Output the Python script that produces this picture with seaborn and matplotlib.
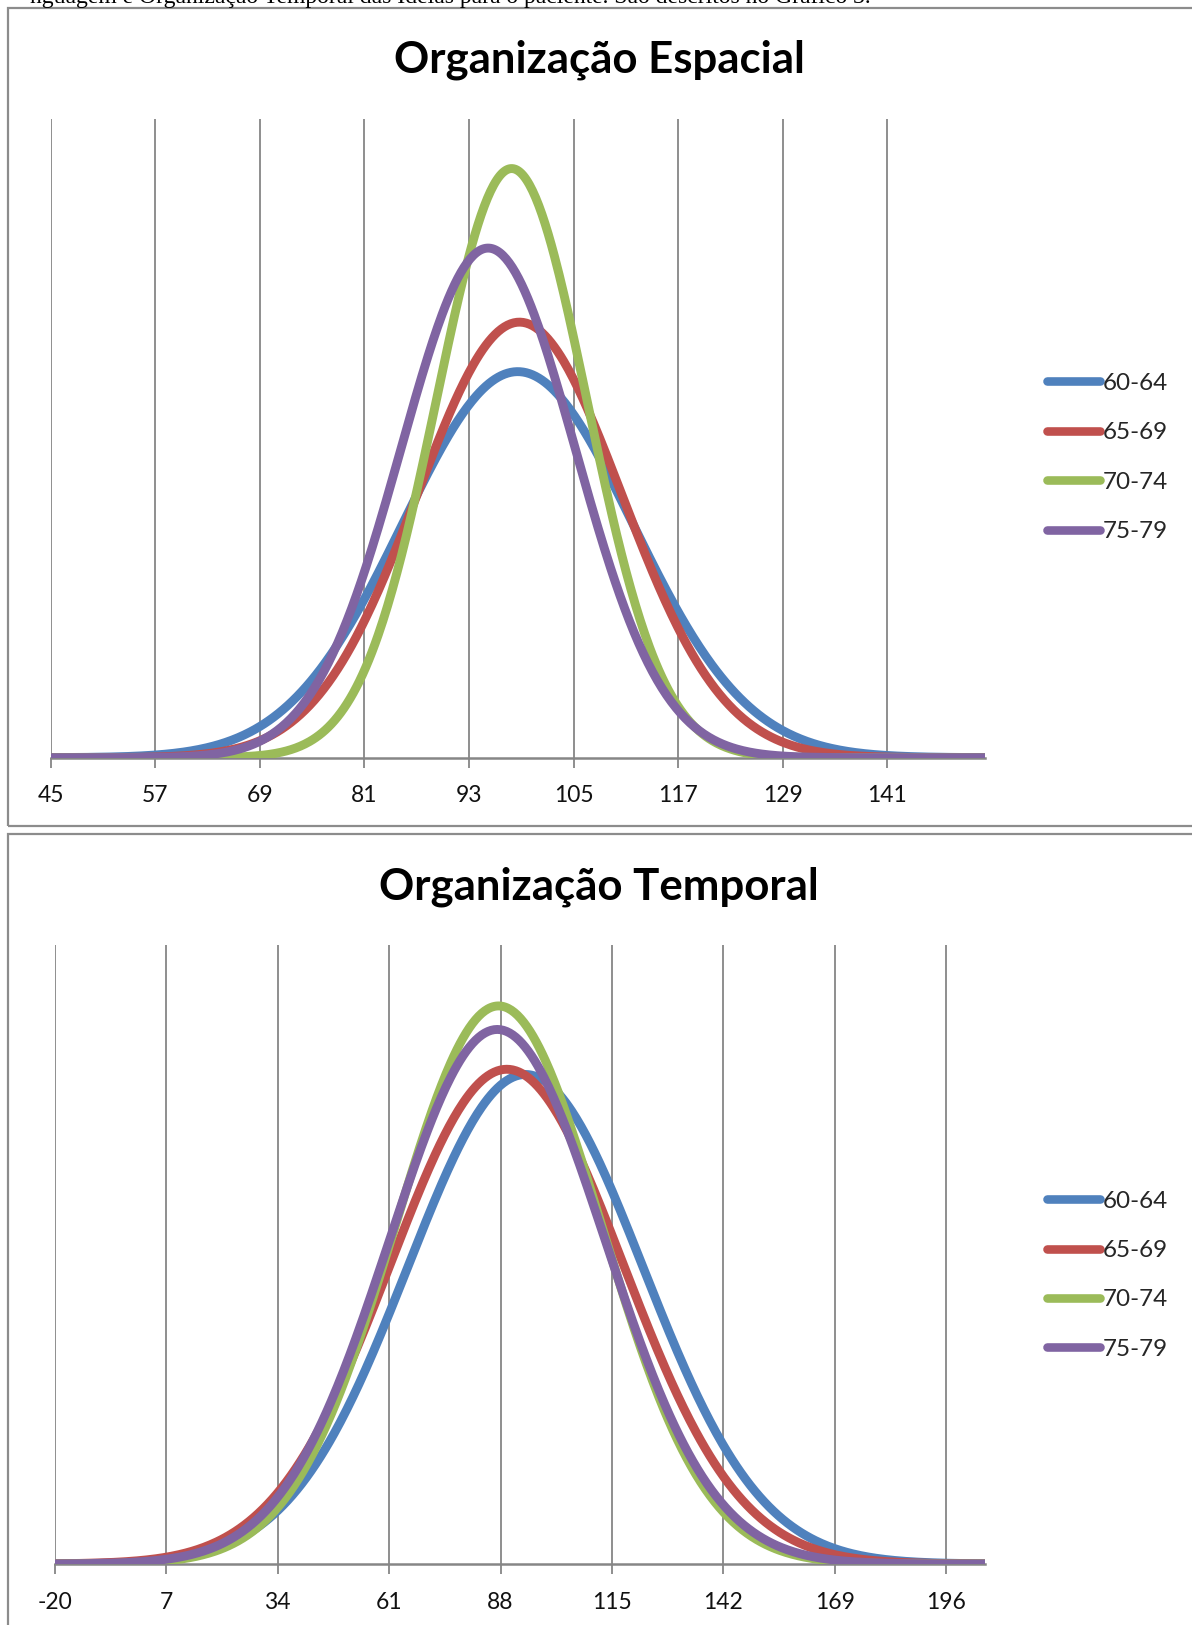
import numpy as np
import pandas as pd
import matplotlib
matplotlib.use("Agg")
import matplotlib.pyplot as plt
import seaborn as sns
from matplotlib.patches import Rectangle
from matplotlib.lines import Line2D

# ---- data (mean and SD of each age group's normal curve) ----
groups = ["60-64", "65-69", "70-74", "75-79"]
colors = ["#4F81BD", "#C0504D", "#9BBB59", "#8064A2"]

esp_means = [98.6, 98.8, 97.9, 95.2]
esp_sds = [13.2, 11.7, 8.65, 10.0]
esp_ticks = [45, 57, 69, 81, 93, 105, 117, 129, 141]
esp_xrange = [45, 152.2]
esp_ymax = 0.05

tmp_means = [94.0, 89.5, 87.5, 87.2]
tmp_sds = [28.5, 28.2, 25.0, 26.1]
tmp_ticks = [-20, 7, 34, 61, 88, 115, 142, 169, 196]
tmp_xrange = [-20, 205.3]
tmp_ymax = 0.0177

titles = ["Organização Espacial", "Organização Temporal"]
header_text = "nguagem e Organização Temporal das Ideias para o paciente. São descritos no Gráfico 3."


def curves(means, sds, xr):
    x = np.linspace(xr[0], xr[1], 600)
    rows = []
    for g, m, s in zip(groups, means, sds):
        y = np.exp(-0.5 * ((x - m) / s) ** 2) / (s * np.sqrt(2 * np.pi))
        rows.append(pd.DataFrame({"x": x, "y": y, "grupo": g}))
    return pd.concat(rows, ignore_index=True)


sns.set_theme(style="white")
plt.rcParams["font.family"] = ["Lato", "DejaVu Sans"]

W, H = 1192, 1625
fig = plt.figure(figsize=(W / 100, H / 100), dpi=100)
fig.patch.set_facecolor("white")

def fx(px):
    return px / W

def fy(py):
    return 1 - py / H

# chart borders (Excel chart areas)
border_kw = dict(transform=fig.transFigure, fill=False, edgecolor="#8c8c8c", lw=1.6)
fig.patches.append(Rectangle((fx(8), fy(826)), 1.2, fy(8) - fy(826), **border_kw))
fig.patches.append(Rectangle((fx(8), fy(1700)), 1.2, fy(834) - fy(1700), **border_kw))

# clipped text line above the first chart (cut at the top edge as in the source page)
fig.text(fx(30), fy(3), header_text, family=["Liberation Serif"], fontsize=17,
         ha="left", va="baseline", color="black")

panels = [
    dict(means=esp_means, sds=esp_sds, ticks=esp_ticks, xr=esp_xrange, ymax=esp_ymax,
         left=50.8, right=984.7, top=119, base=757.7, title=titles[0], title_y=60,
         leg_y=[384.5, 433, 482, 530.7]),
    dict(means=tmp_means, sds=tmp_sds, ticks=tmp_ticks, xr=tmp_xrange, ymax=tmp_ymax,
         left=54.9, right=984.7, top=945, base=1564, title=titles[1], title_y=887,
         leg_y=[1202, 1251, 1300, 1348.5]),
]

for p in panels:
    ax = fig.add_axes([fx(p["left"]), fy(p["base"]), fx(p["right"] - p["left"]),
                       (p["base"] - p["top"]) / H])
    df = curves(p["means"], p["sds"], p["xr"])
    sns.lineplot(data=df, x="x", y="y", hue="grupo", palette=colors, hue_order=groups,
                 linewidth=6.4, ax=ax, legend=False, solid_capstyle="round")
    ax.set_xlim(p["xr"])
    ax.set_ylim(0, p["ymax"])
    ax.set_xticks(p["ticks"])
    ax.set_xticklabels([str(t) for t in p["ticks"]])
    ax.set_yticks([])
    ax.set_xlabel("")
    ax.set_ylabel("")
    for s in ["top", "right", "left"]:
        ax.spines[s].set_visible(False)
    ax.spines["bottom"].set_color("#868686")
    ax.spines["bottom"].set_linewidth(1.8)
    ax.spines["bottom"].set_zorder(0.5)
    ax.grid(axis="x", color="#868686", linewidth=1.3)
    ax.grid(axis="y", visible=False)
    ax.set_axisbelow(True)
    ax.tick_params(axis="x", direction="out", length=7.5, width=1.3, color="#868686",
                   pad=12.5, labelsize=16.5, labelcolor="#111111", bottom=True)
    # title
    fig.text(0.5025, fy(p["title_y"]), p["title"], ha="center", va="center",
             fontsize=31.5, fontweight="bold", color="black")
    # legend
    handles = [Line2D([0], [0], color=c, lw=6.2, solid_capstyle="round") for c in colors]
    fig.legend(handles, groups, loc="center left",
               bbox_to_anchor=(fx(1047), fy((p["leg_y"][0] + p["leg_y"][-1]) / 2)),
               frameon=False, borderpad=0, borderaxespad=0, handlelength=2.2,
               handletextpad=0.1, labelspacing=1.17, fontsize=17.5)

fig.savefig("out.png", dpi=100, facecolor="white")
